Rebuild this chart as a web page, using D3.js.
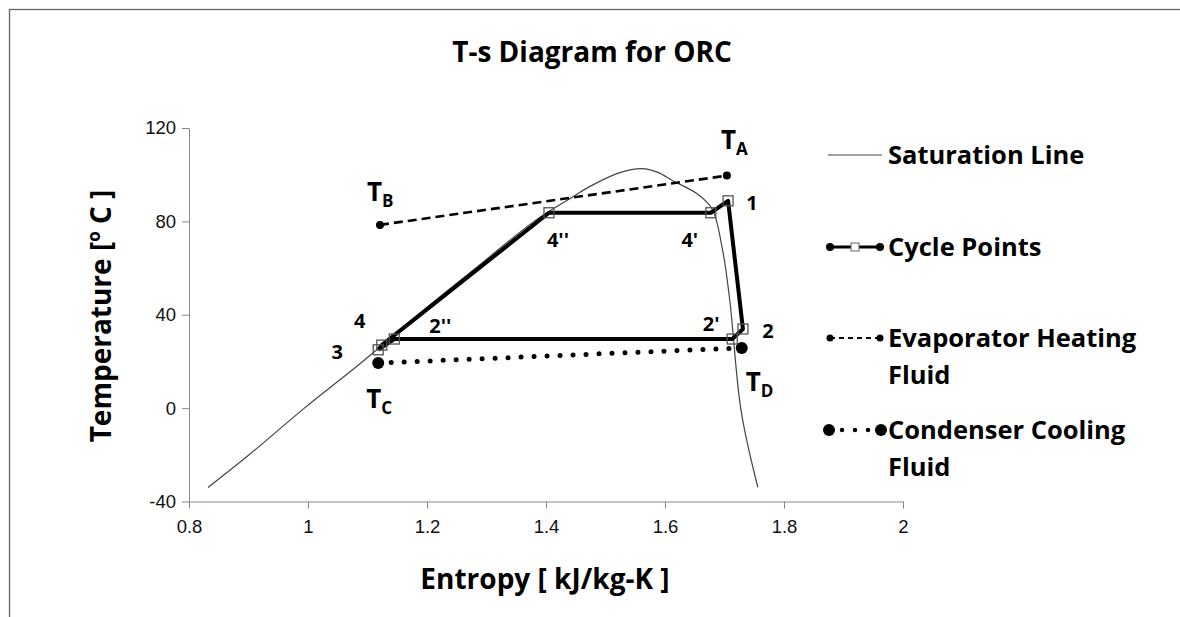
<!DOCTYPE html>
<html>
<head>
<meta charset="utf-8">
<script src="https://cdn.jsdelivr.net/npm/d3@7"></script>
<style>
  body { margin: 0; background: #fff; }
  svg { display: block; font-family: "Open Sans", Lato, sans-serif; }
  .tick text { font-size: 18.5px; fill: #111; }
  .axis path, .axis line { stroke: #888; }
</style>
</head>
<body>
<svg id="chart" width="1180" height="617"></svg>
<script>
// saturation dome (entropy, temperature)
var satS = [0.832, 0.901, 0.994, 1.092, 1.185, 1.282, 1.38, 1.442, 1.474, 1.524, 1.561, 1.588, 1.613, 1.654, 1.679, 1.697, 1.709, 1.728, 1.756];
var satT = [-34, -20, 0, 20, 40, 60, 80, 90, 95, 100.9, 102.6, 101, 97.4, 91.8, 85.4, 67.4, 45.9, -1.3, -33.9];

// cycle points, in drawing order
var cycleNames = ['3', '4', '4\'\'', '4\'', '1', '2', '2\'', '2\'\'', '3'];
var cycleS = [1.118, 1.124, 1.405, 1.677, 1.706, 1.731, 1.713, 1.145, 1.118];
var cycleT = [25, 27, 83.7, 83.7, 88.8, 33.9, 29.6, 29.6, 25];

// evaporator heating fluid (TB -> TA)
var evapS = [1.121, 1.704];
var evapT = [78.5, 99.6];

// condenser cooling fluid (TC -> TD)
var condS = [1.118, 1.729];
var condT = [19.3, 25.8];

var xTicks = [0.8, 1, 1.2, 1.4, 1.6, 1.8, 2];
var yTicks = [-40, 0, 40, 80, 120];

var svg = d3.select('#chart');

// chart frame
svg.append('rect')
	.attr('x', 9.5).attr('y', 9.5)
	.attr('width', 1200).attr('height', 700)
	.attr('fill', 'none').attr('stroke', '#666').attr('stroke-width', 1.3);

var x = d3.scaleLinear().domain([0.8, 2]).range([189, 903]);
var y = d3.scaleLinear().domain([-40, 120]).range([501.5, 128]);

var zip = function(a, b){ return a.map(function(v, i){ return [v, b[i]]; }); };

svg.append('g')
	.attr('class', 'axis')
	.attr('transform', 'translate(0,' + y(-40) + ')')
	.call(d3.axisBottom(x).tickValues(xTicks).tickSize(7).tickSizeOuter(0).tickPadding(11)
		.tickFormat(function(d){ return d3.format('')(d); }));

svg.append('g')
	.attr('class', 'axis')
	.attr('transform', 'translate(' + x(0.8) + ',0)')
	.call(d3.axisLeft(y).tickValues(yTicks).tickSize(7).tickSizeOuter(0).tickPadding(6)
		.tickFormat(function(d){ return d; }));

svg.selectAll('.axis .domain').attr('stroke', '#888');

// title + axis titles
svg.append('text')
	.attr('x', 592).attr('y', 62)
	.attr('text-anchor', 'middle')
	.attr('font-size', 28).attr('font-weight', 'bold')
	.text('T-s Diagram for ORC');

svg.append('text')
	.attr('x', 545).attr('y', 589)
	.attr('text-anchor', 'middle')
	.attr('font-size', 28).attr('font-weight', 'bold')
	.text('Entropy [ kJ/kg-K ]');

var yTitle = svg.append('text')
	.attr('transform', 'translate(111,316) rotate(-90)')
	.attr('text-anchor', 'middle')
	.attr('font-size', 28).attr('font-weight', 'bold');
yTitle.append('tspan').text('Temperature [');
yTitle.append('tspan').attr('font-size', 17).attr('dy', -11).text('o');
yTitle.append('tspan').attr('dy', 11).text(' C ]');

var line = d3.line().x(function(d){ return x(d[0]); }).y(function(d){ return y(d[1]); });

// saturation line
svg.append('path')
	.datum(zip(satS, satT))
	.attr('d', line.curve(d3.curveCatmullRom))
	.attr('fill', 'none').attr('stroke', '#444').attr('stroke-width', 1.2);
line.curve(d3.curveLinear);

// evaporator fluid
var evap = zip(evapS, evapT);
svg.append('path')
	.datum(evap).attr('d', line)
	.attr('fill', 'none').attr('stroke', '#000').attr('stroke-width', 2.6)
	.attr('stroke-dasharray', '9,5');
svg.selectAll('.evapDot').data(evap).enter().append('circle')
	.attr('cx', function(d){ return x(d[0]); }).attr('cy', function(d){ return y(d[1]); })
	.attr('r', 4).attr('fill', '#000');

// condenser fluid
var cond = zip(condS, condT);
svg.append('path')
	.datum(cond).attr('d', line)
	.attr('fill', 'none').attr('stroke', '#000').attr('stroke-width', 5)
	.attr('stroke-linecap', 'round').attr('stroke-dasharray', '0,13');
svg.selectAll('.condDot').data(cond).enter().append('circle')
	.attr('cx', function(d){ return x(d[0]); }).attr('cy', function(d){ return y(d[1]); })
	.attr('r', 6).attr('fill', '#000');

// cycle
var cycle = zip(cycleS, cycleT);
svg.append('path')
	.datum(cycle).attr('d', line)
	.attr('fill', 'none').attr('stroke', '#000').attr('stroke-width', 4)
	.attr('stroke-linejoin', 'round');
svg.selectAll('.cycSq').data(cycle.slice(0, -1)).enter().append('rect')
	.attr('x', function(d){ return x(d[0]) - 5; }).attr('y', function(d){ return y(d[1]) - 5; })
	.attr('width', 10).attr('height', 10)
	.attr('fill', 'none').attr('stroke', '#555').attr('stroke-width', 1.3);

// point labels: name, offset from point
var labelDx = [-41, -22, 9, -21, 24, 25, -21, 46];
var labelDy = [9, -17, 34, 34, 9, 9, -8, -6];
svg.selectAll('.ptLabel').data(cycle.slice(0, -1)).enter().append('text')
	.attr('x', function(d, i){ return x(d[0]) + labelDx[i]; })
	.attr('y', function(d, i){ return y(d[1]) + labelDy[i]; })
	.attr('text-anchor', 'middle')
	.attr('font-size', 20).attr('font-weight', 'bold')
	.text(function(d, i){ return cycleNames[i]; });

// T labels for the fluid end points
var tNames = ['B', 'A', 'C', 'D'];
var tPts = [evap[0], evap[1], cond[0], cond[1]];
var tDx = [-13, -6, -12, 4];
var tDy = [-24, -27, 45, 43];
tPts.forEach(function(p, i){
	var t = svg.append('text')
		.attr('x', x(p[0]) + tDx[i]).attr('y', y(p[1]) + tDy[i])
		.attr('font-size', 26).attr('font-weight', 'bold');
	t.append('tspan').text('T');
	t.append('tspan').attr('font-size', 17).attr('dy', 6).text(tNames[i]);
});

// legend
var legNames = [['Saturation Line'], ['Cycle Points'], ['Evaporator Heating', 'Fluid'], ['Condenser Cooling', 'Fluid']];
var legY = [155, 247, 338, 430];
var leg = svg.append('g');
legY.forEach(function(ly, i){
	var g = leg.append('g').attr('transform', 'translate(0,' + ly + ')');
	if (i === 0) {
		g.append('line').attr('x1', 828).attr('x2', 882).attr('stroke', '#444').attr('stroke-width', 1.2);
	} else if (i === 1) {
		g.append('line').attr('x1', 830).attr('x2', 880).attr('stroke', '#000').attr('stroke-width', 3);
		g.append('circle').attr('cx', 830).attr('r', 4).attr('fill', '#000');
		g.append('circle').attr('cx', 880).attr('r', 4).attr('fill', '#000');
		g.append('rect').attr('x', 851).attr('y', -4).attr('width', 8).attr('height', 8)
			.attr('fill', '#fff').attr('stroke', '#666');
	} else if (i === 2) {
		g.append('line').attr('x1', 830).attr('x2', 880).attr('stroke', '#000').attr('stroke-width', 2)
			.attr('stroke-dasharray', '5,4');
		g.append('circle').attr('cx', 830).attr('r', 3.5).attr('fill', '#000');
		g.append('circle').attr('cx', 880).attr('r', 3.5).attr('fill', '#000');
	} else {
		g.append('line').attr('x1', 829).attr('x2', 881).attr('stroke', '#000').attr('stroke-width', 4.5)
			.attr('stroke-linecap', 'round').attr('stroke-dasharray', '0,13');
		g.append('circle').attr('cx', 829).attr('r', 6).attr('fill', '#000');
		g.append('circle').attr('cx', 881).attr('r', 6).attr('fill', '#000');
	}
	var t = g.append('text').attr('x', 888).attr('y', 9)
		.attr('font-size', 25.5).attr('font-weight', 'bold');
	legNames[i].forEach(function(s, j){
		t.append('tspan').attr('x', 888).attr('dy', j === 0 ? 0 : 37).text(s);
	});
});
</script>
</body>
</html>
